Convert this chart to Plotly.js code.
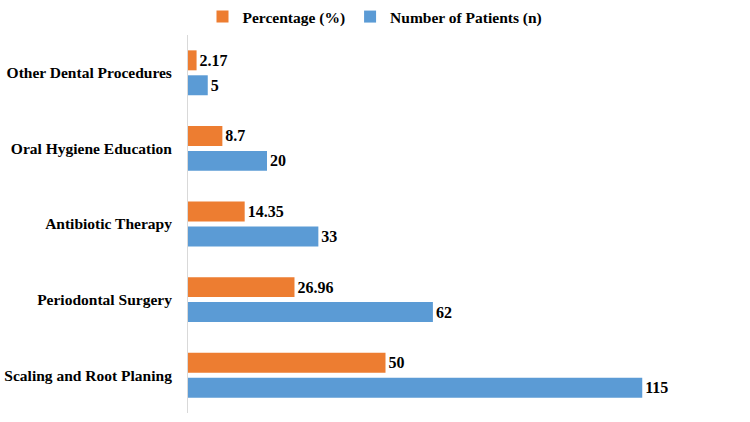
<!DOCTYPE html>
<html>
<head>
<meta charset="utf-8">
<script src="https://cdn.plot.ly/plotly-3.0.1.min.js"></script>
<style>html,body{margin:0;padding:0;background:#fff;}#chart{width:750px;height:422px;}</style>
</head>
<body>
<div id="chart"></div>
<script>
const categories = ["Scaling and Root Planing", "Periodontal Surgery", "Antibiotic Therapy", "Oral Hygiene Education", "Other Dental Procedures"];
const patients = [115, 62, 33, 20, 5];
const percentage = [50, 26.96, 14.35, 8.7, 2.17];
const seriesNames = ["Number of Patients (n)", "Percentage (%)"];
const colors = ["#5B9BD5", "#ED7D31"];

const font = {family: "Liberation Serif", size: 15.5, color: "#000", weight: "bold"};
const labelFont = {family: "Liberation Serif", size: 16, color: "#000", weight: "bold"};

const traces = [patients, percentage].map((vals, i) => ({
  type: "bar",
  orientation: "h",
  name: seriesNames[i],
  y: categories,
  x: vals,
  text: vals.map(v => String(v)),
  textposition: "outside",
  textfont: labelFont,
  cliponaxis: false,
  marker: {color: colors[i]},
  hoverinfo: "none"
}));

const layout = {
  width: 750, height: 422,
  margin: {l: 188, r: 9, t: 35, b: 9},
  paper_bgcolor: "#fff", plot_bgcolor: "#fff",
  barmode: "group", bargap: 0.34, bargroupgap: 0.2,
  font: font,
  showlegend: true,
  legend: {orientation: "h", traceorder: "reversed", xref: "container", yref: "container",
           x: 0.5, xanchor: "center", y: 1 - 17/422, yanchor: "middle", font: font,
           itemwidth: 30},
  xaxis: {visible: false, range: [0, 140], fixedrange: true},
  yaxis: {type: "category", showline: true, linecolor: "#d9d9d9", linewidth: 1,
          ticks: "outside", ticklen: 12, tickcolor: "rgba(0,0,0,0)", showgrid: false,
          tickfont: font, range: [-0.5, 4.5]}
};

Plotly.newPlot("chart", traces, layout, {displayModeBar: false, staticPlot: true});
</script>
</body>
</html>
